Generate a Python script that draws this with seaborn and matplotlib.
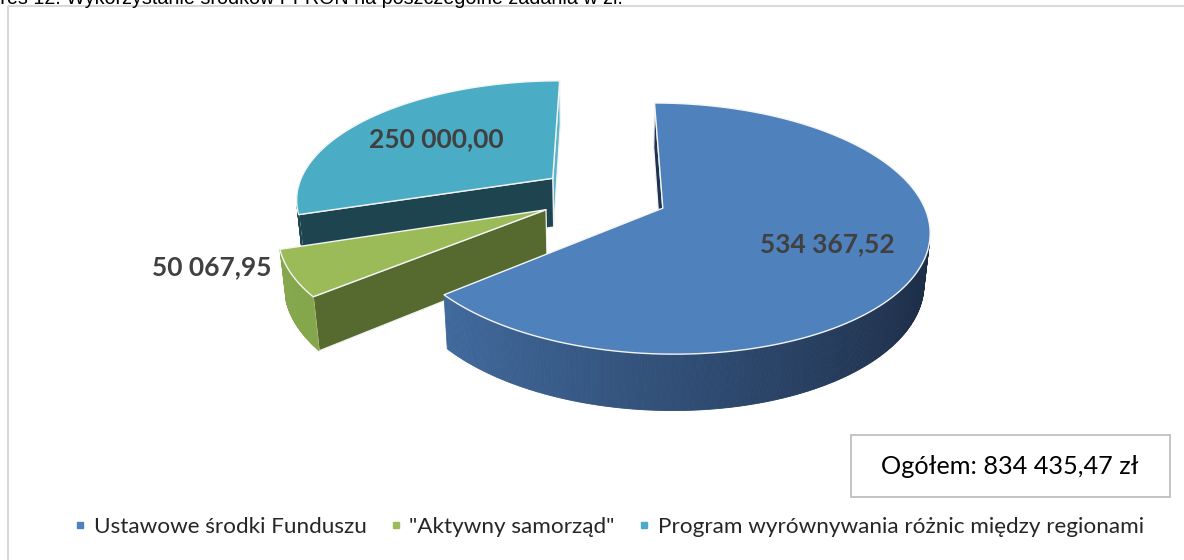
import numpy as np
import matplotlib
matplotlib.use("Agg")
import matplotlib.pyplot as plt
import seaborn as sns
from matplotlib.patches import Polygon, Rectangle
from matplotlib.lines import Line2D

# ---------------- data ----------------
categories = ["Ustawowe środki Funduszu", '"Aktywny samorząd"',
              "Program wyrównywania różnic między regionami"]
values = [534367.52, 50067.95, 250000.00]
value_labels = ["534 367,52", "50 067,95", "250 000,00"]
total_label = "Ogółem: 834 435,47 zł"
title_text = "Wykres 12. Wykorzystanie środków PFRON na poszczególne zadania w zł."

# ---------------- style ----------------
top_colors = ["#4F81BD", "#9BBB59", "#4BACC6"]
wall_light = ["#4571A8", "#86A84D", "#1F4552"]
wall_dark = ["#1C2C45", "#7A9A45", "#1F4552"]
start_face = ["#1F3350", "#566A30", "#1E4450"]
end_face = ["#2B4A75", "#6B8A3A", "#5CB5CC"]
label_r = [0.65, 1.267, 0.62]
label_z = [0.0, 0.10, 0.0]
draw_order = [2, 1, 0]

sns.set_theme(style="white")
plt.rcParams["font.family"] = ["Lato", "DejaVu Sans"]

W, H = 1184, 560
fig = plt.figure(figsize=(W / 100, H / 100), dpi=100)
ax = fig.add_axes([0, 0, 1, 1])
ax.set_xlim(0, W)
ax.set_ylim(H, 0)
ax.axis("off")

# projection parameters
phi = np.deg2rad(27.3)
Dcam = 5.55
scale = 257.5
cx, cy = 603.6, 195.3
explode = 0.25
h = 0.22
cam = np.array([0.0, -Dcam * np.cos(phi), Dcam * np.sin(phi)])


def view(x, y, z):
    x, y, z = np.asarray(x, float), np.asarray(y, float), np.asarray(z, float)
    up = z * np.cos(phi) + y * np.sin(phi)
    depth = y * np.cos(phi) - z * np.sin(phi)
    s = Dcam / (Dcam + depth)
    return cx + x * s * scale, cy - up * s * scale, depth


def visible(nrm, p):
    return np.dot(nrm, cam - p) > 0


fracs = np.array(values) / np.sum(values)
starts = 90 - 360 * np.concatenate([[0], np.cumsum(fracs)[:-1]])
ends = starts - 360 * fracs

for i in draw_order:
    t1, t2 = np.deg2rad(starts[i]), np.deg2rad(ends[i])
    tm = (t1 + t2) / 2
    ox, oy = explode * np.cos(tm), explode * np.sin(tm)
    n = max(int(abs(starts[i] - ends[i]) * 2), 10)
    th = np.linspace(t1, t2, n)
    rx = ox + np.cos(th)
    ry = oy + np.sin(th)
    faces = []
    pal = sns.blend_palette([wall_light[i], wall_dark[i]], 101)
    for k in range(n - 1):
        a = (th[k] + th[k + 1]) / 2
        p = np.array([ox + np.cos(a), oy + np.sin(a), -h / 2])
        nrm = np.array([np.cos(a), np.sin(a), 0.0])
        if visible(nrm, p):
            X, Y, dp = view([rx[k], rx[k + 1], rx[k + 1], rx[k]],
                            [ry[k], ry[k + 1], ry[k + 1], ry[k]],
                            [0, 0, -h, -h])
            col = pal[int(round((np.cos(a) + 1) / 2 * 100))]
            faces.append((dp.mean(), np.c_[X, Y], col, col, 0.6))
    for t, nd, col in [(t1, t1 + np.pi / 2, start_face[i]),
                       (t2, t2 - np.pi / 2, end_face[i])]:
        p = np.array([ox + 0.5 * np.cos(t), oy + 0.5 * np.sin(t), -h / 2])
        nrm = np.array([np.cos(nd), np.sin(nd), 0.0])
        if visible(nrm, p):
            X, Y, dp = view([ox, ox + np.cos(t), ox + np.cos(t), ox],
                            [oy, oy + np.sin(t), oy + np.sin(t), oy],
                            [0, 0, -h, -h])
            faces.append((dp.mean(), np.c_[X, Y], col, "#F2F2F2", 0.9))
    faces.sort(key=lambda f: -f[0])
    for _, xy, fc, ec, lw in faces:
        ax.add_patch(Polygon(xy, closed=True, facecolor=fc, edgecolor=ec,
                             linewidth=lw, joinstyle="round"))
    X, Y, _ = view(np.r_[ox, rx], np.r_[oy, ry], np.zeros(n + 1))
    ax.add_patch(Polygon(np.c_[X, Y], closed=True, facecolor=top_colors[i],
                         edgecolor="#F4F4F4", linewidth=1.0, joinstyle="round"))

# value labels
for i in range(len(values)):
    tm = np.deg2rad((starts[i] + ends[i]) / 2)
    r = explode + label_r[i]
    X, Y, _ = view(r * np.cos(tm), r * np.sin(tm), label_z[i])
    ax.text(float(X), float(Y), value_labels[i], ha="center", va="center",
            fontsize=19, fontweight="bold", color="#404040")

# chart area border (top and left)
ax.plot([8, W], [6, 6], color="#D9D9D9", lw=1.5, solid_capstyle="butt")
ax.plot([8, 8], [6, H], color="#D9D9D9", lw=1.5, solid_capstyle="butt")

# caption at top (partly outside the page, as in the reference)
ax.text(623, 4, title_text, ha="right", va="baseline", fontsize=14.2,
        family=["Liberation Sans", "DejaVu Sans"], color="black")

# total box
ax.add_patch(Rectangle((851, 435), 319, 62, facecolor="white",
                       edgecolor="#BFBFBF", linewidth=1.3))
ax.text(1010, 467, total_label, ha="center", va="center", fontsize=18.2,
        color="black")

# legend
handles = [Line2D([0], [0], marker="s", linestyle="none", markersize=5,
                  markerfacecolor=c, markeredgecolor=c) for c in top_colors]
fig.legend(handles, categories, loc="center", ncol=3,
           bbox_to_anchor=(0.514, 1 - 527 / H), frameon=False,
           fontsize=16.2, handlelength=0.6, handletextpad=0.3,
           columnspacing=1.0)

fig.savefig("out.png", dpi=100)
